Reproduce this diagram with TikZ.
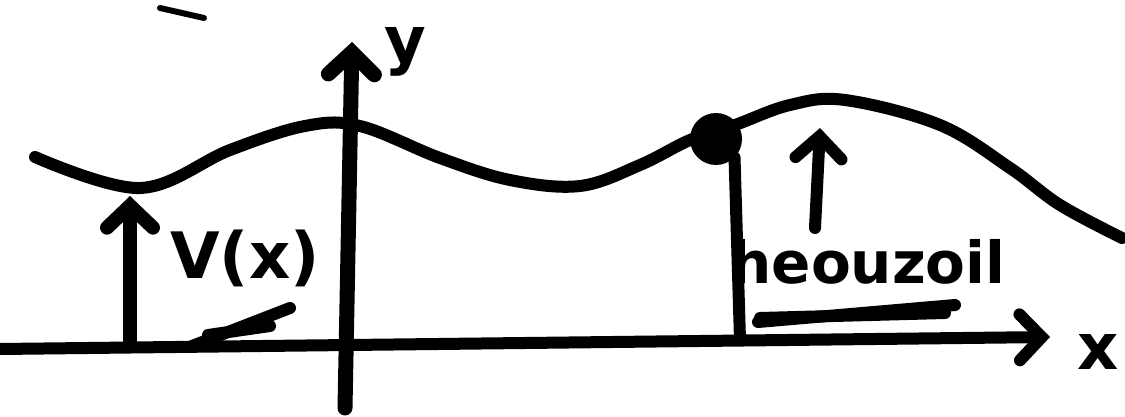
\documentclass[tikz,border=0pt]{standalone}
\usepackage{fontspec}
\setmainfont{DejaVu Sans}
\usetikzlibrary{arrows.meta}
\tikzset{
  trazo/.style={line width=12pt,line cap=round,line join=round},
  flecha/.style={trazo,-{Straight Barb[length=22pt,width=46pt,line cap=round]}},
  letra/.style={font=\fontsize{64}{64}\selectfont\bfseries}
}

\begin{document}
\begin{tikzpicture}[x=1pt,y=-1pt,>=Latex]
  \useasboundingbox (0,0) rectangle (1125,417);

  % ejes
  \coordinate (O) at (0,349);
  \coordinate (Xf) at (1050,337);
  \coordinate (Yi) at (345,408);
  \coordinate (Yf) at (352,42);
  \draw[flecha] (O) -- (Xf);
  \draw[flecha,line width=15pt] (Yi) -- (Yf);
  \node[letra] (ejex) at (1098,352) {x};
  \node[letra] (ejey) at (405,52) {y};

  % potencial
  \draw[trazo] plot[smooth,tension=0.6] coordinates {
    (35,157) (140,188) (230,150) (305,126) (360,126) (440,158)
    (510,180) (580,186) (640,165) (690,140) (735,125) (790,105)
    (845,100) (940,125) (1010,168) (1060,205) (1122,238)};

  % particula
  \node[circle,fill,minimum size=52pt,inner sep=0pt] (bola) at (716,139) {};
  \coordinate (pie) at (740,340);
  \draw[trazo] (bola.south east) -- (pie);

  % V(x)
  \coordinate (Vpie) at (130,345);
  \coordinate (Vtop) at (130,196);
  \draw[flecha,line width=14pt] (Vpie) -- (Vtop);
  \node[letra] (Vx) at (245,258) {V(x)};
  \draw[trazo] (192,346) -- (290,308);
  \draw[trazo] (208,335) -- (270,326);

  % derecha
  \coordinate (Fpie) at (815,228);
  \coordinate (Ftop) at (820,128);
  \draw[flecha] (Fpie) -- (Ftop);
  \node[letra,font=\fontsize{58}{58}\selectfont\bfseries] (nom) at (868,262) {heouzoil};
  \draw[trazo] (758,322) -- (955,305);
  \draw[trazo] (760,318) -- (945,313);

  % trazo suelto
  \draw[line width=6pt,line cap=round] (160,8) -- (204,18);
\end{tikzpicture}
\end{document}
